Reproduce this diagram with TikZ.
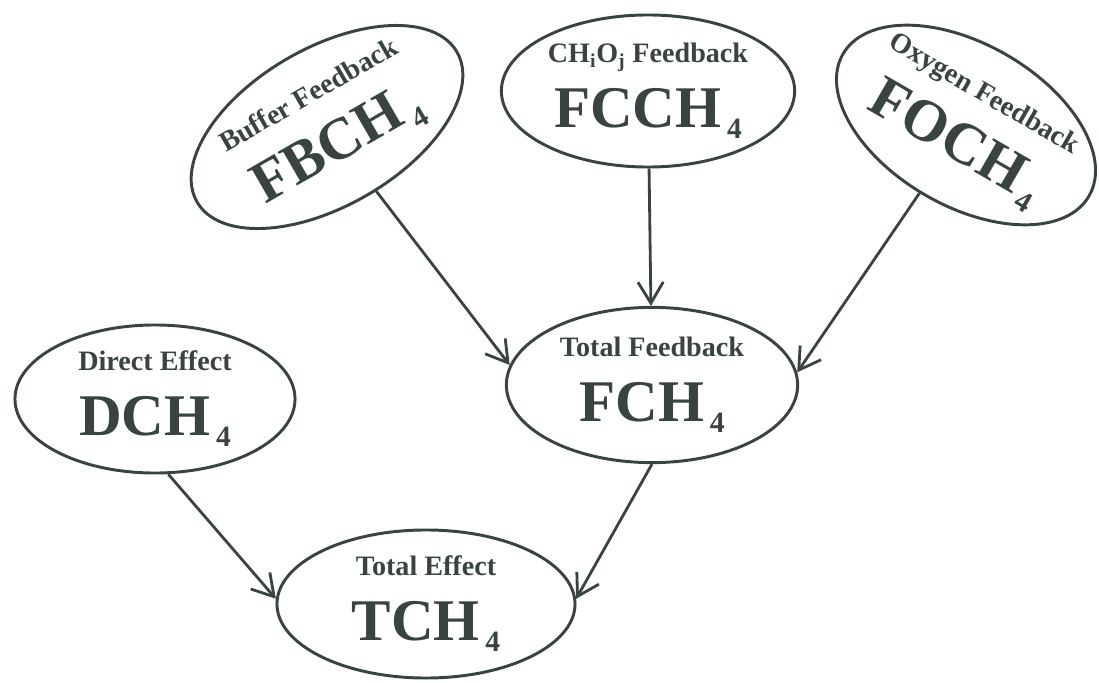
\documentclass[tikz,border=0pt]{standalone}
\usepackage{fontspec}
\setmainfont{Liberation Serif}
\usetikzlibrary{positioning,arrows.meta,shapes.geometric}

\definecolor{ink}{RGB}{58,68,63}
% big methane symbol with lowered 4
\newcommand{\chfour}[1]{{\fontsize{42}{45.5}\selectfont #1H}\hspace{4pt}\raisebox{-8pt}{\fontsize{21}{22}\selectfont 4}}

\begin{document}
\begin{tikzpicture}[
  x=0.025cm, y=-0.025cm,
  effect/.style={draw=ink,ellipse,line width=2.1pt,inner xsep=-20pt,inner ysep=0pt,
    minimum width=7.3cm,minimum height=3.85cm,align=center,text=ink,
    font=\fontsize{20}{46}\selectfont\bfseries},
  every edge/.style={draw=ink,line width=2pt,-{Straight Barb[length=15pt,width=18pt]}},
]
  \useasboundingbox (0,0) rectangle (1099,683);

  % Feedback terms
  \node[effect,rotate=30,minimum width=7.5cm,minimum height=3.95cm] (fb) at (327,127) {Buffer Feedback\\\chfour{FBC}};
  \node[effect,minimum width=7.33cm,minimum height=3.8cm] (fcch) at (648,91) {CH\textsubscript{i}O\textsubscript{j} Feedback\\\chfour{FCC}};
  \node[effect,rotate=-30,minimum width=7.1cm,minimum height=4.05cm] (fo) at (966,125) {Oxygen Feedback\\\chfour{FOC}};

  % Sums
  \node[effect,minimum width=7.28cm,minimum height=3.88cm] (fch) at (652,385) {Total Feedback\\\chfour{FC}};
  \node[effect,minimum width=7cm,minimum height=3.7cm] (dch) at (155,399) {Direct Effect\\\chfour{DC}};
  \node[effect,minimum width=7.45cm,minimum height=3.7cm] (tch) at (426,604) {Total Effect\\\chfour{TC}};

  % Edges: feedbacks into total feedback
  \path (fb) edge (fch.172);
  \path (fcch) edge (fch);
  \path (fo) edge (fch.5);

  % Edges: into total effect
  \path (dch.-80) edge (tch.178);
  \path (fch.south) edge (tch.2);
\end{tikzpicture}
\end{document}
